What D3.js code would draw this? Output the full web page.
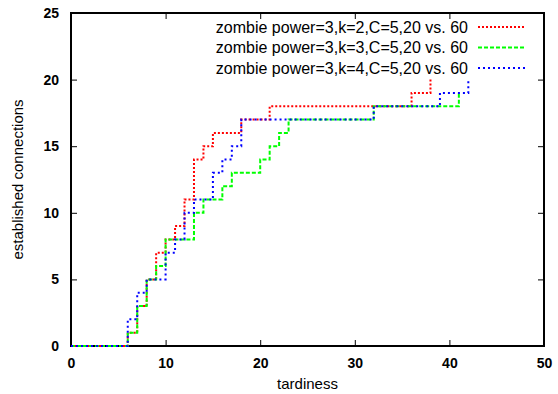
<!DOCTYPE html>
<html>
<head>
<meta charset="utf-8">
<script src="https://cdn.jsdelivr.net/npm/d3@7"></script>
<style>
  body { margin: 0; background: #fff; }
  svg { font-family: "Liberation Sans", Arial, sans-serif; }
</style>
</head>
<body>
<div id="chart"></div>
<script>
// Data (step points: x = tardiness, y = established connections)

const seriesNames = [
    "zombie power=3,k=2,C=5,20 vs. 60",
    "zombie power=3,k=3,C=5,20 vs. 60",
    "zombie power=3,k=4,C=5,20 vs. 60"
];
const redX   = [0, 6, 7, 8, 9, 10, 11, 12, 13, 14, 15, 18, 21, 36, 38];
const redY   = [0, 1, 3, 5, 7,  8,  9, 11, 14, 15, 16, 17, 18, 19, 20];
const greenX = [0, 6, 7, 8, 9, 10, 13, 14, 16, 17, 20, 21, 22, 23, 32, 41];
const greenY = [0, 1, 3, 5, 6,  8, 10, 11, 12, 13, 14, 15, 16, 17, 18, 19];
const blueX  = [0, 6, 7, 8, 10, 11, 12, 13, 15, 16, 17, 18, 32, 39, 42];
const blueY  = [0, 2, 4, 5,  7,  8, 10, 11, 13, 14, 15, 17, 18, 19, 20];
const xTicks = [0, 10, 20, 30, 40, 50];
const yTicks = [0, 5, 10, 15, 20, 25];

// Chart setup

const W = 558, H = 394;
const margin = {top: 13, right: 14, bottom: 48, left: 71};
const width = W - margin.left - margin.right,
      height = H - margin.top - margin.bottom;

const svg = d3.select("#chart").append("svg")
    .attr("width", W)
    .attr("height", H);
const g = svg.append("g")
    .attr("transform", "translate(" + margin.left + "," + margin.top + ")");

const x = d3.scaleLinear().domain([0, 50]).range([0, width]);
const y = d3.scaleLinear().domain([0, 25]).range([height, 0]);

// Axes (ticks inside on all four sides), drawn under the lines

const tickFont = g => g.selectAll("text")
    .attr("font-size", 14)
    .attr("font-weight", "bold")
    .attr("fill", "#000");

g.append("g")
    .attr("transform", "translate(0," + height + ")")
    .call(d3.axisBottom(x).tickValues(xTicks).tickSizeInner(-6).tickSizeOuter(0).tickPadding(12))
    .call(tickFont)
    .call(a => a.select(".domain").remove());
g.append("g")
    .call(d3.axisTop(x).tickValues(xTicks).tickSizeInner(-6).tickSizeOuter(0).tickFormat(""))
    .call(a => a.select(".domain").remove());
g.append("g")
    .call(d3.axisLeft(y).tickValues(yTicks).tickSizeInner(-6).tickSizeOuter(0).tickPadding(12))
    .call(tickFont)
    .call(a => a.select(".domain").remove());
g.append("g")
    .attr("transform", "translate(" + width + ",0)")
    .call(d3.axisRight(y).tickValues(yTicks).tickSizeInner(-6).tickSizeOuter(0).tickFormat(""))
    .call(a => a.select(".domain").remove());

g.selectAll(".tick line").attr("stroke", "#000").attr("stroke-width", 1);

g.append("rect")
    .attr("width", width)
    .attr("height", height)
    .attr("fill", "none")
    .attr("stroke", "#000")
    .attr("stroke-width", 2);

// Series

const series = [
    {name: seriesNames[0], xs: redX,   ys: redY,   color: "#ff0000", dash: "2,2"},
    {name: seriesNames[1], xs: greenX, ys: greenY, color: "#00ff00", dash: "4,2"},
    {name: seriesNames[2], xs: blueX,  ys: blueY,  color: "#0000ff", dash: "2,3"}
];

// value holds from x_i until the next x, then jumps (gnuplot "steps")
const line = d3.line()
    .x(d => x(d[0]))
    .y(d => y(d[1]))
    .curve(d3.curveStepAfter);

series.forEach(s => {
    const pts = s.xs.map((v, i) => [v, s.ys[i]]);
    g.append("path")
        .attr("d", line(pts))
        .attr("fill", "none")
        .attr("stroke", s.color)
        .attr("stroke-width", 2)
        .attr("stroke-dasharray", s.dash);
});

// Axis labels

svg.append("text")
    .attr("x", margin.left + width / 2)
    .attr("y", 389)
    .attr("text-anchor", "middle")
    .attr("font-size", 15)
    .text("tardiness");

svg.append("text")
    .attr("transform", "translate(23," + (margin.top + height / 2) + ") rotate(-90)")
    .attr("text-anchor", "middle")
    .attr("font-size", 15)
    .text("established connections");

// Legend

const legend = svg.append("g");
series.forEach((s, i) => {
    const ly = 27 + i * 20.5;
    legend.append("text")
        .attr("x", 468)
        .attr("y", ly)
        .attr("dy", "0.35em")
        .attr("text-anchor", "end")
        .attr("font-size", 16)
        .text(s.name);
    legend.append("line")
        .attr("x1", 478).attr("x2", 526)
        .attr("y1", ly).attr("y2", ly)
        .attr("stroke", s.color)
        .attr("stroke-width", 2)
        .attr("stroke-dasharray", s.dash);
});
</script>
</body>
</html>
